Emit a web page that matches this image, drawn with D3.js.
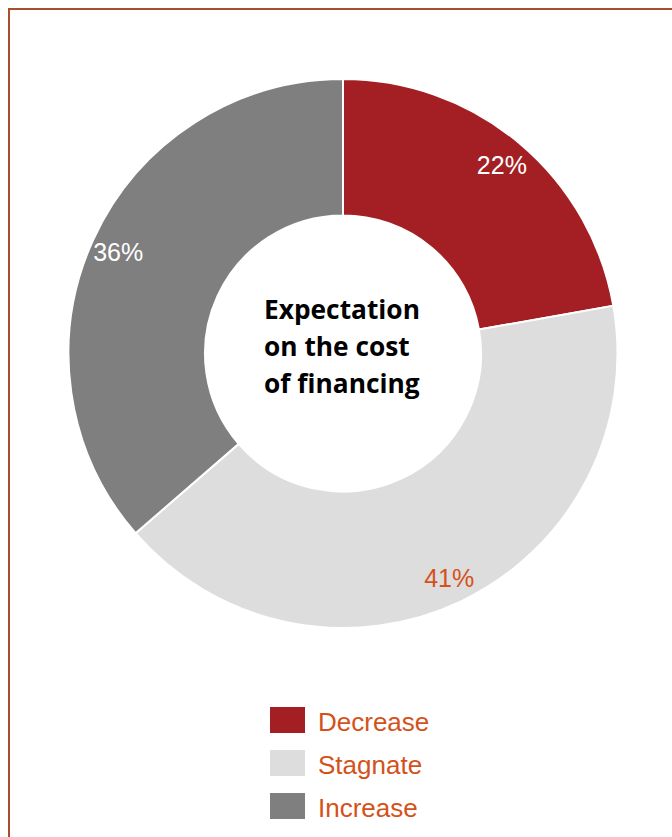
<!DOCTYPE html>
<html>
<head>
<meta charset="utf-8">
<script src="https://cdn.jsdelivr.net/npm/d3@7"></script>
<style>
  html, body { margin: 0; padding: 0; background: #ffffff; }
  svg { display: block; }
</style>
</head>
<body>
<svg id="chart" width="672" height="837"></svg>
<script>
// Survey answers: expected development of the cost of financing
const categories = ["Decrease", "Stagnate", "Increase"];
const shares = [22, 41, 36];
const sliceColors = ["#A31F23", "#DDDDDD", "#7F7F7F"];
const labelColors = ["#FFFFFF", "#D4521A", "#FFFFFF"];
const centerTitle = ["Expectation", "on the cost", "of financing"];

const svg = d3.select("#chart");
const W = 672, H = 837;

// Frame
svg.append("rect")
  .attr("x", 9).attr("y", 9)
  .attr("width", W + 20).attr("height", H + 20)
  .attr("fill", "none")
  .attr("stroke", "#A5502A")
  .attr("stroke-width", 2);

const cx = 343, cy = 353.5;
const outerR = 274.5, innerR = 138;

const rows = categories.map((c, i) => ({ category: c, value: shares[i], color: sliceColors[i], labelColor: labelColors[i] }));

const pie = d3.pie().value(d => d.value).sort(null);
const arc = d3.arc().innerRadius(innerR).outerRadius(outerR);

const g = svg.append("g").attr("transform", `translate(${cx},${cy})`);
const arcs = pie(rows);

g.selectAll("path.slice")
  .data(arcs)
  .join("path")
  .attr("class", "slice")
  .attr("d", arc)
  .attr("fill", d => d.data.color)
  .attr("stroke", "#FFFFFF")
  .attr("stroke-width", 2);

// Percentage labels placed near the outer part of each ring segment
const labelRadius = 0.80 * outerR + 0.20 * innerR;
const lblArc = d3.arc().innerRadius(labelRadius).outerRadius(labelRadius);
g.selectAll("text.pct")
  .data(arcs)
  .join("text")
  .attr("class", "pct")
  .attr("x", d => lblArc.centroid(d)[0])
  .attr("y", d => lblArc.centroid(d)[1])
  .attr("text-anchor", "middle")
  .attr("dy", "0.4em")
  .attr("font-family", "Arial, 'Liberation Sans', sans-serif")
  .attr("font-size", 25)
  .attr("fill", d => d.data.labelColor)
  .text(d => d.data.value + "%");

// Centre title, sized so the first line spans the hole's text column
const title = svg.append("text")
  .attr("font-family", "'Open Sans', Lato, sans-serif")
  .attr("font-weight", "bold")
  .attr("font-size", 24)
  .attr("fill", "#000000");
title.selectAll("tspan")
  .data(centerTitle)
  .join("tspan")
  .attr("x", 264)
  .attr("y", (d, i) => 319 + i * 37)
  .text(d => d);
const firstLine = title.select("tspan").node();
const w0 = firstLine.getComputedTextLength();
if (w0 > 0) title.attr("font-size", 24 * 156 / w0);

// Legend
const legend = svg.append("g").attr("transform", "translate(270,707)");
const item = legend.selectAll("g.item")
  .data(rows)
  .join("g")
  .attr("class", "item")
  .attr("transform", (d, i) => `translate(0,${i * 43})`);
item.append("rect")
  .attr("width", 35).attr("height", 26)
  .attr("fill", d => d.color);
item.append("text")
  .attr("x", 48).attr("y", 24)
  .attr("font-family", "Arial, 'Liberation Sans', sans-serif")
  .attr("font-size", 26)
  .attr("fill", "#D4521A")
  .text(d => d.category);
</script>
</body>
</html>
